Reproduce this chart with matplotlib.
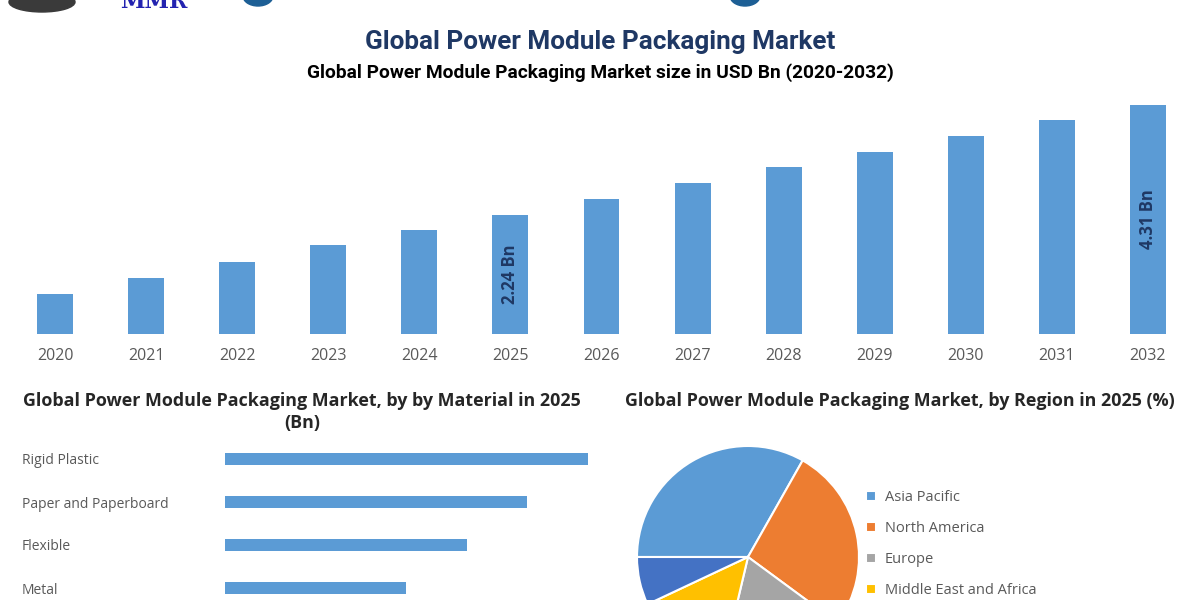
import matplotlib
matplotlib.use("Agg")
import matplotlib.pyplot as plt
from matplotlib.patches import Ellipse

# market size by year (USD Bn)
years = ["2020", "2021", "2022", "2023", "2024", "2025", "2026",
         "2027", "2028", "2029", "2030", "2031", "2032"]
market_size = [0.76, 1.06, 1.36, 1.67, 1.95, 2.24, 2.55,
               2.84, 3.14, 3.42, 3.72, 4.03, 4.31]
labelled_years = {"2025": "2.24 Bn", "2032": "4.31 Bn"}

# by material in 2025 (Bn)
materials = ["Rigid Plastic", "Paper and Paperboard", "Flexible", "Metal"]
material_values = [0.60, 0.50, 0.40, 0.30]

# by region in 2025 (%)
regions = ["Asia Pacific", "North America", "Europe",
           "Middle East and Africa", "Latin America"]
region_share = [33.2, 26.9, 18.6, 14.3, 7.0]
region_colors = ["#5B9BD5", "#ED7D31", "#A5A5A5", "#FFC000", "#4472C4"]

BAR_BLUE = "#5B9BD5"
NAVY = "#1F3864"
GREY_TXT = "#595959"

plt.rcParams["font.family"] = ["Open Sans", "DejaVu Sans"]

fig = plt.figure(figsize=(12, 6), dpi=100)
W, H = 1200.0, 600.0

def fx(px):
    return px / W

def fy(py):
    return 1 - py / H

# cropped logo strip at the very top
fig.patches.append(Ellipse((fx(42), fy(2)), 66 / W, 20 / H,
                           color="#3a3a3a", transform=fig.transFigure))
fig.text(fx(120), fy(8), "MMR", fontsize=16, fontweight="bold",
         family="DejaVu Serif", color="#2323b0", va="baseline")
fig.patches.append(Ellipse((fx(258), fy(-4)), 30 / W, 20 / H,
                           color="#1d5f95", transform=fig.transFigure))
fig.patches.append(Ellipse((fx(745), fy(-4)), 30 / W, 20 / H,
                           color="#1d5f95", transform=fig.transFigure))

# titles
fig.text(0.5, fy(42), "Global Power Module Packaging Market", ha="center",
         va="center", fontsize=18.8, fontweight="bold", color=NAVY,
         family=["Roboto", "DejaVu Sans"])
fig.text(0.5, fy(73), "Global Power Module Packaging Market size in USD Bn (2020-2032)",
         ha="center", va="center", fontsize=13.8, fontweight="bold", color="black",
         family=["Roboto", "DejaVu Sans"])

# ---- top bar chart ----
ax1 = fig.add_axes([fx(9.5), fy(334), 1184 / W, (334 - 105) / H])
x = range(len(years))
ax1.bar(x, market_size, width=0.395, color=BAR_BLUE)
ax1.set_xlim(-0.5, len(years) - 0.5)
ax1.set_ylim(0, max(market_size))
ax1.set_xticks(list(x))
ax1.set_xticklabels(years, fontsize=11.5, color=GREY_TXT)
ax1.tick_params(axis="x", length=0, pad=10)
ax1.set_yticks([])
for s in ax1.spines.values():
    s.set_visible(False)
for i, yr in enumerate(years):
    if yr in labelled_years:
        ax1.text(i, market_size[i] / 2, labelled_years[yr], rotation=90,
                 ha="center", va="center", fontsize=12, fontweight="bold",
                 color=NAVY)

# ---- material bars ----
fig.text(fx(302), fy(401), "Global Power Module Packaging Market, by by Material in 2025",
         ha="center", va="center", fontsize=12.9, fontweight="bold", color="#262626")
fig.text(fx(302), fy(423), "(Bn)", ha="center", va="center", fontsize=12.9,
         fontweight="bold", color="#262626")

ax2 = fig.add_axes([fx(225), fy(609.5), 399 / W, (609.5 - 437.5) / H])
ypos = range(len(materials))
ax2.barh(list(ypos), material_values, height=0.3, color=BAR_BLUE)
ax2.set_ylim(len(materials) - 0.5, -0.5)
ax2.set_xlim(0, 0.66)
ax2.set_yticks(list(ypos))
ax2.set_yticklabels(materials, fontsize=10, color=GREY_TXT)
for lab in ax2.get_yticklabels():
    lab.set_horizontalalignment("left")
ax2.tick_params(axis="y", length=0, pad=203 * 0.72)
ax2.set_xticks([])
for s in ax2.spines.values():
    s.set_visible(False)

# ---- region pie ----
fig.text(fx(900), fy(401), "Global Power Module Packaging Market, by Region in 2025 (%)",
         ha="center", va="center", fontsize=12.9, fontweight="bold", color="#262626")

ax3 = fig.add_axes([fx(637), fy(668), 222 / W, 222 / H])
wedges, _ = ax3.pie(region_share, colors=region_colors, startangle=180,
                    counterclock=False,
                    wedgeprops=dict(edgecolor="white", linewidth=1.5))
ax3.set_xlim(-1.0, 1.0)
ax3.set_ylim(-1.0, 1.0)
ax3.set_aspect("equal")

fig.legend(wedges, regions, loc="upper left", bbox_to_anchor=(fx(866), fy(490)),
           frameon=False, fontsize=10.5, handlelength=0.7, handleheight=0.7,
           handletextpad=0.6, labelspacing=1.1, borderpad=0, borderaxespad=0,
           labelcolor=GREY_TXT)

fig.savefig("out.png", dpi=100, facecolor="white")
